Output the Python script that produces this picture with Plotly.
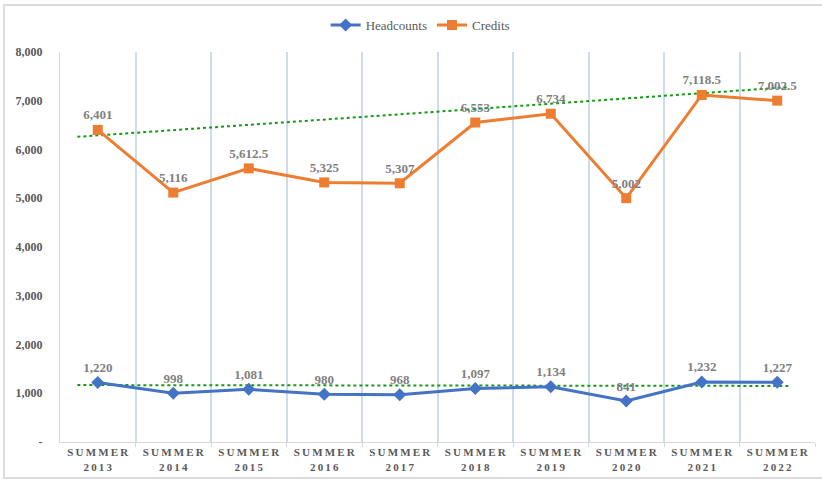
import plotly.graph_objects as go

TS = "\u2009"

def spaced(s):
    return TS.join(list(s))

years = ["2013", "2014", "2015", "2016", "2017", "2018", "2019", "2020", "2021", "2022"]
headcounts = [1220, 998, 1081, 980, 968, 1097, 1134, 841, 1232, 1227]
credits = [6401, 5116, 5612.5, 5325, 5307, 6553, 6734, 5002, 7118.5, 7002.5]
head_labels = ["1,220", "998", "1,081", "980", "968", "1,097", "1,134", "841", "1,232", "1,227"]
credit_labels = ["6,401", "5,116", "5,612.5", "5,325", "5,307", "6,553", "6,734", "5,002", "7,118.5", "7,002.5"]

# trendline endpoints
trend_x = [-0.27, 9.15]
credits_trend = [6260, 7280]
head_trend = [1168, 1150]

y_ticks = [0, 1000, 2000, 3000, 4000, 5000, 6000, 7000, 8000]
y_ticktext = ["-", "1,000", "2,000", "3,000", "4,000", "5,000", "6,000", "7,000", "8,000"]

xs = list(range(len(years)))
x_labels = [spaced("SUMMER") + "<br>" + spaced(y) for y in years]

SERIF = "Liberation Serif, Times New Roman, serif"
BLUE = "#4472c4"
ORANGE = "#ed7d31"
GREEN = "#159a15"

fig = go.Figure()

fig.add_trace(go.Scatter(
    x=trend_x, y=head_trend, mode="lines", showlegend=False,
    line=dict(color=GREEN, width=2, dash="dot"), hoverinfo="skip"))
fig.add_trace(go.Scatter(
    x=trend_x, y=credits_trend, mode="lines", showlegend=False,
    line=dict(color=GREEN, width=2, dash="dot"), hoverinfo="skip"))

fig.add_trace(go.Scatter(
    x=xs, y=headcounts, name="Headcounts", mode="lines+markers+text",
    line=dict(color=BLUE, width=3),
    marker=dict(symbol="diamond", size=10, color=BLUE),
    text=head_labels, textposition="top center",
    textfont=dict(family=SERIF, size=13, color="#7f7f7f", weight="bold")))
fig.add_trace(go.Scatter(
    x=xs, y=credits, name="Credits", mode="lines+markers+text",
    line=dict(color=ORANGE, width=3),
    marker=dict(symbol="square", size=10, color=ORANGE),
    text=credit_labels, textposition="top center",
    textfont=dict(family=SERIF, size=13, color="#7f7f7f", weight="bold")))

fig.update_layout(
    width=822, height=483,
    margin=dict(l=60, r=7, t=52, b=41, autoexpand=False),
    paper_bgcolor="white", plot_bgcolor="white",
    font=dict(family=SERIF, color="#595959"),
    legend=dict(orientation="h", x=0.477, xanchor="center", y=1.069, yanchor="middle",
                font=dict(family=SERIF, size=13, color="#595959"),
                itemwidth=30, traceorder="normal"),
    xaxis=dict(
        range=[-0.5, 9.5], tickmode="array", tickvals=xs, ticktext=x_labels,
        showgrid=False, zeroline=False, ticks="", automargin=False,
        showline=True, linecolor="#d9d9d9", linewidth=1,
        tickfont=dict(family=SERIF, size=11, color="#595959", weight="bold"),
        minor=dict(tickmode="array", tickvals=[i + 0.5 for i in range(10)],
                   showgrid=True, gridcolor="#cddcea", gridwidth=1.5,
                   ticks="outside", ticklen=4, tickcolor="#d9d9d9"),
    ),
    yaxis=dict(
        range=[0, 8000], tickmode="array", tickvals=y_ticks, ticktext=y_ticktext,
        showgrid=False, zeroline=False, ticks="", automargin=False,
        showline=True, linecolor="#d9d9d9", linewidth=1,
        ticklabelstandoff=14,
        tickfont=dict(family=SERIF, size=12, color="#595959", weight="bold"),
    ),
    shapes=[dict(type="rect", xref="paper", yref="paper", x0=-0.0742, x1=1.012,
                 y0=-0.0923, y1=1.1205, line=dict(color="#dcdcdc", width=2))],
)

fig.write_html("out.html", config={"displayModeBar": False},
               post_script="document.body.style.margin='0';document.body.style.overflow='hidden';")
